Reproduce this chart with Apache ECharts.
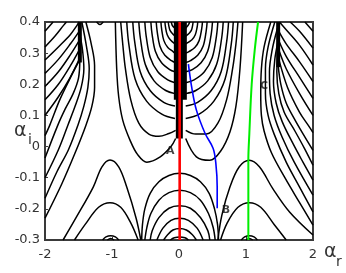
<!DOCTYPE html>
<html><head><meta charset="utf-8">
<script src="https://cdn.jsdelivr.net/npm/echarts@6/dist/echarts.min.js"></script>
<style>html,body{margin:0;padding:0;background:#fff}#c{width:346px;height:273px}</style>
</head><body><div id="c"></div>
<script>
// axis ticks
const xTicks = [-2, -1, 0, 1, 2];
const yTicks = [-0.3, -0.2, -0.1, 0, 0.1, 0.2, 0.3, 0.4];

// left fan (around alpha_r = -1.5)
const P1 = [[-2,0.37],[-1.88,0.4]];
const P2 = [[-2,0.32],[-1.85,0.355],[-1.72,0.39],[-1.68,0.4]];
const P3 = [[-2,0.278],[-1.8,0.32],[-1.62,0.36],[-1.52,0.39],[-1.49,0.4]];
const P4 = [[-2,0.235],[-1.8,0.28],[-1.62,0.33],[-1.49,0.37]];
const P5 = [[-2,0.193],[-1.8,0.24],[-1.62,0.295],[-1.49,0.34]];
const P6 = [[-2,0.15],[-1.8,0.2],[-1.62,0.26],[-1.49,0.31]];
const P7 = [[-2,0.10],[-1.8,0.16],[-1.63,0.22],[-1.49,0.28]];
const F5 = [[-2,0.035],[-1.93,0.068],[-1.78,0.15],[-1.6,0.23],[-1.49,0.275]];
const F4 = [[-2,-0.037],[-1.81,0.068],[-1.7,0.12],[-1.58,0.17],[-1.5,0.22],[-1.48,0.28]];
const F3 = [[-2,-0.10],[-1.8,-0.01],[-1.66,0.068],[-1.55,0.13],[-1.46,0.19],[-1.42,0.25],[-1.44,0.31],[-1.48,0.36]];
const F2 = [[-2,-0.166],[-1.82,-0.08],[-1.65,-0.01],[-1.51,0.068],[-1.42,0.13],[-1.36,0.19],[-1.34,0.25],[-1.38,0.32],[-1.45,0.4]];
const F1 = [[-2,-0.23],[-1.75,-0.12],[-1.55,-0.02],[-1.39,0.068],[-1.3,0.13],[-1.26,0.19],[-1.26,0.26],[-1.31,0.33],[-1.39,0.4]];

// right fan (around alpha_r = 1.5)
const RP1 = [[1.88,0.4],[2,0.37]];
const RP2 = [[1.66,0.4],[1.8,0.37],[2,0.316]];
const RP3 = [[1.5,0.4],[1.6,0.375],[1.8,0.325],[2,0.262]];
const RP4 = [[1.49,0.37],[1.6,0.33],[1.8,0.272],[2,0.209]];
const RP5 = [[1.49,0.34],[1.6,0.29],[1.8,0.222],[2,0.155]];
const RP6 = [[1.49,0.31],[1.6,0.25],[1.8,0.17],[2,0.10]];
const G7 = [[1.49,0.28],[1.62,0.19],[1.8,0.11],[1.93,0.068],[2,0.045]];
const G6 = [[1.48,0.26],[1.52,0.2],[1.6,0.14],[1.72,0.09],[1.84,0.045],[2,-0.012]];
const G5 = [[1.48,0.3],[1.46,0.24],[1.49,0.17],[1.57,0.11],[1.73,0.05],[1.87,-0.005],[2,-0.06]];
const G4 = [[1.48,0.34],[1.43,0.28],[1.41,0.21],[1.45,0.14],[1.54,0.08],[1.7,0.01],[1.85,-0.05],[2,-0.108]];
const G3 = [[1.47,0.38],[1.39,0.31],[1.35,0.24],[1.36,0.17],[1.42,0.1],[1.54,0.03],[1.72,-0.05],[2,-0.156]];
const G2 = [[1.43,0.4],[1.33,0.32],[1.29,0.25],[1.29,0.17],[1.33,0.1],[1.42,0.04],[1.6,-0.05],[1.8,-0.13],[2,-0.21]];
const G1 = [[1.37,0.4],[1.27,0.32],[1.23,0.25],[1.22,0.17],[1.23,0.1],[1.27,0.05],[1.38,-0.02],[1.58,-0.1],[1.8,-0.18],[2,-0.252]];

// lower humps
const NL1 = [[-1.73,-0.3],[-1.53,-0.226],[-1.28,-0.13],[-1.15,-0.065],[-1.03,-0.043],[-0.9,-0.065],[-0.78,-0.13],[-0.64,-0.23],[-0.57,-0.3]];
const NL2 = [[-1.56,-0.3],[-1.4,-0.25],[-1.2,-0.195],[-1.03,-0.18],[-0.87,-0.195],[-0.72,-0.245],[-0.61,-0.3]];
const NL3 = [[-1.14,-0.3],[-1.09,-0.29],[-1.02,-0.286],[-0.95,-0.29],[-0.9,-0.3]];
const NL4 = [[-1.07,-0.3],[-1.02,-0.295],[-0.97,-0.3]];
const NT = [[-1.23,0.4],[-1.18,0.392],[-1.13,0.4]];
const NR1 = [[0.58,-0.3],[0.64,-0.22],[0.76,-0.13],[0.9,-0.065],[1.05,-0.044],[1.2,-0.065],[1.4,-0.135],[1.65,-0.21],[2,-0.284]];
const NR2 = [[0.62,-0.3],[0.72,-0.245],[0.88,-0.195],[1.05,-0.18],[1.22,-0.195],[1.42,-0.25],[1.6,-0.3]];
const NR3 = [[0.93,-0.3],[0.98,-0.29],[1.05,-0.286],[1.12,-0.29],[1.17,-0.3]];
const NR4 = [[1.0,-0.3],[1.05,-0.295],[1.1,-0.3]];
const C1 = [[-0.557,-0.3],[-0.545,-0.25],[-0.51,-0.2],[-0.43,-0.15],[-0.3,-0.113],[-0.15,-0.093],[0.01,-0.086],[0.17,-0.093],[0.32,-0.113],[0.45,-0.15],[0.53,-0.2],[0.575,-0.25],[0.59,-0.3]];
const C2 = [[-0.51,-0.3],[-0.48,-0.26],[-0.42,-0.215],[-0.3,-0.172],[-0.15,-0.148],[0.01,-0.14],[0.17,-0.148],[0.32,-0.172],[0.44,-0.215],[0.51,-0.26],[0.54,-0.3]];
const C3 = [[-0.43,-0.3],[-0.4,-0.27],[-0.3,-0.228],[-0.15,-0.198],[0.01,-0.19],[0.17,-0.198],[0.32,-0.228],[0.43,-0.27],[0.46,-0.3]];
const C4 = [[-0.33,-0.3],[-0.24,-0.262],[-0.12,-0.237],[0.01,-0.23],[0.14,-0.237],[0.27,-0.262],[0.36,-0.3]];
const C5 = [[-0.23,-0.3],[-0.17,-0.283],[-0.09,-0.268],[0.01,-0.263],[0.11,-0.268],[0.2,-0.283],[0.26,-0.3]];
const C6 = [[-0.13,-0.3],[-0.07,-0.293],[0.01,-0.29],[0.09,-0.293],[0.14,-0.3]];

// upper U-shaped contours, left of the cut
const L1 = [[-0.05,0.026],[-0.12,0.0],[-0.28,-0.033],[-0.48,-0.05],[-0.62,-0.025],[-0.73,0.02],[-0.84,0.085],[-0.9,0.16],[-0.93,0.25],[-0.95,0.4]];
const L2 = [[-0.05,0.052],[-0.15,0.042],[-0.3,0.033],[-0.45,0.04],[-0.6,0.075],[-0.72,0.15],[-0.8,0.25],[-0.84,0.33],[-0.87,0.4]];
const L3 = [[-0.06,0.09],[-0.257,0.104],[-0.484,0.146],[-0.655,0.217],[-0.749,0.329],[-0.78,0.4]];
const L4 = [[-0.06,0.13],[-0.228,0.142],[-0.428,0.179],[-0.58,0.241],[-0.662,0.338],[-0.69,0.4]];
const L5 = [[-0.06,0.17],[-0.198,0.18],[-0.372,0.211],[-0.504,0.264],[-0.576,0.347],[-0.6,0.4]];
const L6 = [[-0.06,0.205],[-0.168,0.214],[-0.316,0.24],[-0.428,0.285],[-0.49,0.355],[-0.51,0.4]];
const L7 = [[-0.06,0.24],[-0.139,0.247],[-0.26,0.269],[-0.353,0.306],[-0.403,0.363],[-0.42,0.4]];
const L8 = [[-0.06,0.27],[-0.112,0.276],[-0.211,0.293],[-0.286,0.323],[-0.326,0.37],[-0.34,0.4]];
const L9 = [[-0.06,0.3],[-0.089,0.305],[-0.167,0.318],[-0.227,0.341],[-0.259,0.377],[-0.27,0.4]];
const L10 = [[-0.06,0.33],[-0.13,0.343],[-0.176,0.359],[-0.202,0.384],[-0.21,0.4]];
const L11 = [[-0.06,0.355],[-0.099,0.363],[-0.134,0.373],[-0.154,0.39],[-0.16,0.4]];
const L12 = [[-0.06,0.38],[-0.097,0.388],[-0.11,0.395],[-0.115,0.4]];
// right of the cut
const R1 = [[0.1,0.026],[0.26,-0.033],[0.46,-0.044],[0.62,-0.015],[0.76,0.047],[0.85,0.13],[0.91,0.25],[0.95,0.4]];
const R2 = [[0.1,0.052],[0.25,0.04],[0.41,0.04],[0.58,0.075],[0.71,0.15],[0.8,0.25],[0.85,0.33],[0.88,0.4]];
const R3 = [[0.1,0.09],[0.301,0.104],[0.521,0.146],[0.688,0.217],[0.78,0.329],[0.81,0.4]];
const R4 = [[0.1,0.13],[0.278,0.142],[0.478,0.179],[0.63,0.241],[0.712,0.338],[0.74,0.4]];
const R5 = [[0.1,0.17],[0.251,0.18],[0.428,0.211],[0.562,0.264],[0.636,0.347],[0.66,0.4]];
const R6 = [[0.1,0.205],[0.225,0.214],[0.379,0.24],[0.495,0.285],[0.559,0.355],[0.58,0.4]];
const R7 = [[0.1,0.24],[0.199,0.247],[0.329,0.269],[0.428,0.306],[0.482,0.363],[0.5,0.4]];
const R8 = [[0.1,0.27],[0.172,0.276],[0.279,0.293],[0.361,0.323],[0.405,0.37],[0.42,0.4]];
const R9 = [[0.1,0.3],[0.149,0.305],[0.236,0.318],[0.302,0.341],[0.338,0.377],[0.35,0.4]];
const R10 = [[0.1,0.33],[0.193,0.343],[0.243,0.359],[0.271,0.384],[0.28,0.4]];
const R11 = [[0.1,0.355],[0.149,0.363],[0.184,0.373],[0.204,0.39],[0.21,0.4]];
const R12 = [[0.1,0.38],[0.13,0.388],[0.15,0.395],[0.16,0.4]];

// dense contour accumulations (drawn as thick strokes)
const cutWide = [[0.02,0.15],[0.02,0.4]];
const cutNarrow = [[0.005,0.026],[0.005,0.16]];
const cutLeft = [[-1.48,0.27],[-1.48,0.4]];
const cutRight = [[1.48,0.255],[1.48,0.4]];

// coloured paths
const pathA = [[0.01,-0.3],[0.01,0.4]];
const pathB = [[0.14,0.265],[0.19,0.19],[0.26,0.117],[0.39,0.042],[0.51,-0.006],[0.55,-0.054],[0.57,-0.129],[0.57,-0.198]];
const pathC = [[1.035,-0.3],[1.035,-0.043],[1.05,0.042],[1.085,0.2],[1.13,0.31],[1.18,0.4]];

// point labels
const labelNames = ['A', 'B', 'C'];
const labelPos = [[-0.13,-0.014],[0.70,-0.204],[1.27,0.194]];

const contours = [P1,P2,P3,P4,P5,P6,P7,F5,F4,F3,F2,F1,
  RP1,RP2,RP3,RP4,RP5,RP6,G7,G6,G5,G4,G3,G2,G1,
  NL1,NL2,NL3,NL4,NT,NR1,NR2,NR3,NR4,C1,C2,C3,C4,C5,C6,
  L1,L2,L3,L4,L5,L6,L7,L8,L9,L10,L11,L12,
  R1,R2,R3,R4,R5,R6,R7,R8,R9,R10,R11,R12];

const series = [];
contours.forEach(d => series.push({
  type: 'line', data: d, showSymbol: false, smooth: 0.35, silent: true,
  lineStyle: { color: '#000', width: 1.5 }, z: 2
}));
function thick(d, w) {
  series.push({ type: 'line', data: d, showSymbol: false, silent: true,
    lineStyle: { color: '#000', width: w, cap: 'butt' }, z: 3 });
}
thick(cutWide, 13); thick(cutNarrow, 7); thick(cutLeft, 4); thick(cutRight, 4);
series.push({ type: 'line', data: pathA, showSymbol: false, silent: true,
  lineStyle: { color: '#ff0000', width: 2.6 }, z: 5 });
series.push({ type: 'line', data: pathB, showSymbol: false, smooth: 0.35, silent: true,
  lineStyle: { color: '#0000ff', width: 1.6 }, z: 5 });
series.push({ type: 'line', data: pathC, showSymbol: false, smooth: 0.35, silent: true,
  lineStyle: { color: '#00ee00', width: 2 }, z: 5 });
series.push({ type: 'scatter', symbolSize: 0, silent: true, z: 6,
  data: labelPos.map((p, i) => ({ value: p, name: labelNames[i] })),
  label: { show: true, position: 'inside', formatter: '{b}', color: '#111',
    fontFamily: 'DejaVu Sans', fontWeight: 'bold', fontSize: 11 } });

const chart = echarts.init(document.getElementById('c'), null, { renderer: 'canvas' });
chart.setOption({
  animation: false,
  backgroundColor: '#fff',
  grid: { left: 45, right: 33, top: 22, bottom: 33, show: true, borderColor: '#3a3a3a', borderWidth: 2, backgroundColor: 'transparent' },
  xAxis: { type: 'value', min: xTicks[0], max: xTicks[xTicks.length - 1], interval: 1,
    axisLine: { show: false, onZero: false }, splitLine: { show: false },
    axisTick: { show: true, inside: true, length: 3, lineStyle: { color: '#3a3a3a' } },
    axisLabel: { color: '#333', fontFamily: 'DejaVu Sans', fontSize: 13, margin: 8 } },
  yAxis: { type: 'value', min: yTicks[0], max: yTicks[yTicks.length - 1], interval: 0.1,
    axisLine: { show: false, onZero: false }, splitLine: { show: false },
    axisTick: { show: true, inside: true, length: 3, lineStyle: { color: '#3a3a3a' } },
    axisLabel: { color: '#333', fontFamily: 'DejaVu Sans', fontSize: 13, margin: 5,
      formatter: v => Math.abs(v) < 1e-9 ? '0' : (+v).toFixed(1) } },
  graphic: [
    { type: 'text', left: 324, top: 243, style: { text: 'α', font: '19px DejaVu Sans', fill: '#333' } },
    { type: 'text', left: 336, top: 255, style: { text: 'r', font: '14px DejaVu Sans', fill: '#333' } },
    { type: 'text', left: 14, top: 122, style: { text: 'α', font: '19px DejaVu Sans', fill: '#333' } },
    { type: 'text', left: 28, top: 133, style: { text: 'i', font: '14px DejaVu Sans', fill: '#333' } }
  ],
  series: series
});
</script>
</body></html>
